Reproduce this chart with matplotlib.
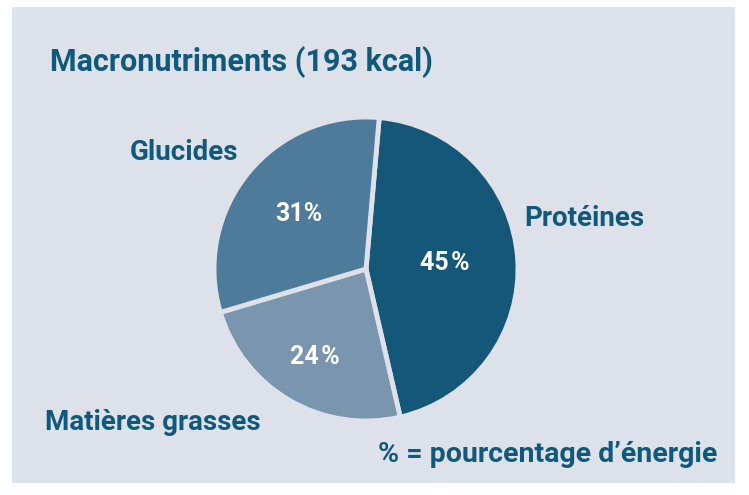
import matplotlib
matplotlib.use('Agg')
import matplotlib.pyplot as plt
import numpy as np
from matplotlib.patches import Rectangle

# data
categories = ['Protéines', 'Matières grasses', 'Glucides']
values = [45, 24, 31]
pct_labels = ['45\u200a%', '24\u200a%', '31%']
colors = ['#155778', '#7a96ae', '#4f7b9a']

title = 'Macronutriments (193 kcal)'
note = '% = pourcentage d\u2019énergie'

W, H = 749, 495
bg = '#dde2ea'
txt_col = '#0f5a7c'
fam = ['Roboto', 'DejaVu Sans']

fig = plt.figure(figsize=(W / 100, H / 100), dpi=100)
fig.patch.set_facecolor('white')

# panel behind everything
fig.patches.append(Rectangle((12 / W, 1 - 483 / H), 723 / W, 476 / H,
                             transform=fig.transFigure, facecolor=bg,
                             edgecolor='none', zorder=-5))

def px(x, y):
    return x / W, 1 - y / H

# pie axes: center (366, 269), radius 152 px
cx, cy, r = 366, 269, 152
ax = fig.add_axes([(cx - r) / W, 1 - (cy + r) / H, 2 * r / W, 2 * r / H])
ax.set_facecolor('none')
wedges, _ = ax.pie(values, colors=colors, startangle=85, counterclock=False,
                   radius=1, wedgeprops=dict(edgecolor=bg, linewidth=3.5))
ax.set_xlim(-1.0, 1.0)
ax.set_ylim(-1.0, 1.0)
ax.set_aspect('equal')
ax.axis('off')

# percent labels inside wedges
label_r = [0.52, 0.67, 0.57]
for w, lab, lr in zip(wedges, pct_labels, label_r):
    a = np.radians((w.theta1 + w.theta2) / 2)
    ax.text(lr * np.cos(a), lr * np.sin(a), lab, color='white', fontsize=18,
            fontweight='bold', family=fam, ha='center', va='center')

fig.text(*px(50, 62), title, fontsize=22, fontweight='bold', family=fam,
         color=txt_col, ha='left', va='center')
fig.text(*px(130, 153), 'Glucides', fontsize=20, fontweight='bold', family=fam,
         color=txt_col, ha='left', va='center')
fig.text(*px(524, 218), 'Protéines', fontsize=20, fontweight='bold', family=fam,
         color=txt_col, ha='left', va='center')
fig.text(*px(45, 422), 'Matières grasses', fontsize=20, fontweight='bold', family=fam,
         color=txt_col, ha='left', va='center')
fig.text(*px(378, 455), note, fontsize=20.5, fontweight='bold', family=fam,
         color=txt_col, ha='left', va='center')

fig.savefig('out.png', dpi=100, facecolor=fig.get_facecolor())
